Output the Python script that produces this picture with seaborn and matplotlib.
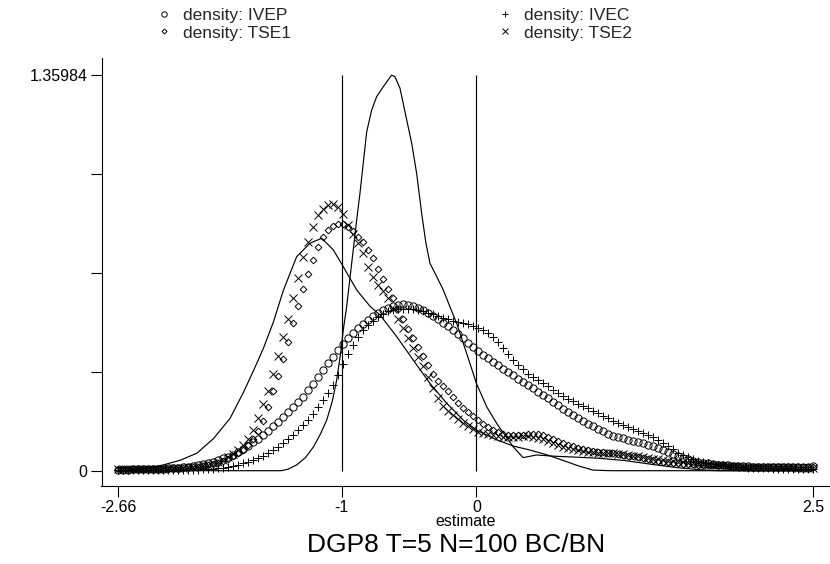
import numpy as np
import pandas as pd
import matplotlib
matplotlib.use("Agg")
import matplotlib.pyplot as plt
import seaborn as sns

# ---------------- data ----------------
x_start, x_end, n_points = -2.66, 2.5, 140
y_max = 1.35984
x_ticks = [-2.66, -1, 0, 2.5]
x_tick_labels = ["-2.66", "-1", "0", "2.5"]
y_ticks = [0, 0.33996, 0.67992, 1.01988, 1.35984]
y_tick_labels = ["0", "", "", "", "1.35984"]
xline_pos = [-1, 0]

ivep = [0.004, 0.004, 0.004, 0.005, 0.005, 0.005, 0.006, 0.006, 0.006, 0.007,
        0.008, 0.009, 0.010, 0.012, 0.014, 0.017, 0.020, 0.023, 0.027, 0.031,
        0.036, 0.042, 0.048, 0.055, 0.064, 0.075, 0.086, 0.098, 0.110, 0.122,
        0.136, 0.152, 0.169, 0.186, 0.203, 0.220, 0.237, 0.255, 0.276, 0.299,
        0.322, 0.345, 0.369, 0.392, 0.414, 0.435, 0.455, 0.472, 0.489, 0.506,
        0.519, 0.531, 0.541, 0.551, 0.559, 0.566, 0.571, 0.573, 0.571, 0.566,
        0.559, 0.551, 0.541, 0.531, 0.520, 0.508, 0.496, 0.483, 0.469, 0.455,
        0.440, 0.426, 0.412, 0.399, 0.386, 0.374, 0.362, 0.350, 0.339, 0.328,
        0.316, 0.305, 0.294, 0.283, 0.272, 0.261, 0.249, 0.237, 0.225, 0.213,
        0.202, 0.192, 0.182, 0.172, 0.162, 0.153, 0.144, 0.135, 0.127, 0.120,
        0.115, 0.111, 0.106, 0.102, 0.098, 0.094, 0.090, 0.085, 0.079, 0.072,
        0.065, 0.058, 0.051, 0.045, 0.040, 0.035, 0.031, 0.028, 0.025, 0.022,
        0.020, 0.019, 0.018, 0.017, 0.016, 0.015, 0.015, 0.014, 0.014, 0.014,
        0.013, 0.013, 0.013, 0.013, 0.013, 0.014, 0.014, 0.014, 0.014, 0.015]

ivec = [0.002, 0.002, 0.002, 0.002, 0.002, 0.002, 0.002, 0.002, 0.002, 0.002,
        0.002, 0.002, 0.003, 0.003, 0.003, 0.004, 0.004, 0.005, 0.006, 0.007,
        0.008, 0.010, 0.013, 0.016, 0.020, 0.025, 0.030, 0.036, 0.043, 0.052,
        0.061, 0.071, 0.082, 0.094, 0.108, 0.123, 0.139, 0.156, 0.175, 0.196,
        0.218, 0.242, 0.268, 0.296, 0.328, 0.368, 0.402, 0.433, 0.459, 0.482,
        0.500, 0.516, 0.530, 0.540, 0.548, 0.553, 0.556, 0.557, 0.556, 0.555,
        0.552, 0.548, 0.542, 0.537, 0.532, 0.526, 0.521, 0.516, 0.512, 0.508,
        0.503, 0.498, 0.492, 0.484, 0.472, 0.458, 0.441, 0.422, 0.401, 0.381,
        0.363, 0.348, 0.334, 0.322, 0.311, 0.300, 0.290, 0.279, 0.268, 0.257,
        0.248, 0.240, 0.231, 0.223, 0.214, 0.206, 0.197, 0.189, 0.180, 0.172,
        0.164, 0.156, 0.149, 0.143, 0.137, 0.131, 0.124, 0.116, 0.106, 0.095,
        0.085, 0.074, 0.062, 0.054, 0.047, 0.041, 0.035, 0.030, 0.026, 0.023,
        0.020, 0.018, 0.016, 0.014, 0.012, 0.011, 0.010, 0.009, 0.009, 0.008,
        0.008, 0.007, 0.007, 0.007, 0.006, 0.006, 0.006, 0.006, 0.006, 0.006]

tse1 = [0.005, 0.005, 0.005, 0.005, 0.006, 0.006, 0.006, 0.006, 0.007, 0.007,
        0.007, 0.008, 0.009, 0.010, 0.011, 0.012, 0.014, 0.016, 0.019, 0.023,
        0.028, 0.034, 0.041, 0.050, 0.060, 0.072, 0.087, 0.108, 0.135, 0.170,
        0.220, 0.273, 0.327, 0.384, 0.444, 0.507, 0.565, 0.625, 0.676, 0.725,
        0.770, 0.802, 0.826, 0.841, 0.848, 0.849, 0.839, 0.823, 0.804, 0.785,
        0.760, 0.731, 0.695, 0.658, 0.625, 0.592, 0.556, 0.520, 0.487, 0.457,
        0.425, 0.395, 0.363, 0.334, 0.310, 0.292, 0.274, 0.255, 0.234, 0.215,
        0.201, 0.187, 0.173, 0.161, 0.150, 0.140, 0.132, 0.126, 0.123, 0.122,
        0.123, 0.124, 0.125, 0.126, 0.125, 0.121, 0.116, 0.110, 0.103, 0.096,
        0.090, 0.084, 0.079, 0.075, 0.071, 0.068, 0.065, 0.063, 0.061, 0.060,
        0.058, 0.055, 0.052, 0.049, 0.046, 0.043, 0.040, 0.037, 0.034, 0.031,
        0.029, 0.027, 0.025, 0.024, 0.023, 0.022, 0.021, 0.021, 0.020, 0.020,
        0.019, 0.018, 0.017, 0.016, 0.015, 0.014, 0.013, 0.013, 0.013, 0.012,
        0.012, 0.012, 0.012, 0.012, 0.012, 0.012, 0.012, 0.012, 0.012, 0.012]

tse2 = [0.005, 0.005, 0.005, 0.005, 0.006, 0.006, 0.006, 0.006, 0.007, 0.007,
        0.008, 0.008, 0.009, 0.010, 0.011, 0.013, 0.015, 0.018, 0.021, 0.025,
        0.031, 0.038, 0.047, 0.058, 0.071, 0.087, 0.108, 0.140, 0.180, 0.228,
        0.275, 0.333, 0.396, 0.459, 0.522, 0.593, 0.663, 0.736, 0.787, 0.839,
        0.879, 0.901, 0.913, 0.916, 0.905, 0.882, 0.846, 0.815, 0.782, 0.750,
        0.700, 0.667, 0.640, 0.618, 0.592, 0.556, 0.520, 0.490, 0.455, 0.421,
        0.392, 0.360, 0.322, 0.286, 0.250, 0.224, 0.205, 0.191, 0.178, 0.165,
        0.152, 0.142, 0.134, 0.129, 0.125, 0.121, 0.119, 0.117, 0.117, 0.117,
        0.117, 0.118, 0.118, 0.117, 0.114, 0.108, 0.101, 0.094, 0.088, 0.082,
        0.078, 0.074, 0.070, 0.067, 0.065, 0.063, 0.062, 0.061, 0.060, 0.060,
        0.058, 0.056, 0.054, 0.051, 0.049, 0.046, 0.044, 0.041, 0.039, 0.037,
        0.035, 0.033, 0.031, 0.029, 0.027, 0.025, 0.023, 0.022, 0.021, 0.020,
        0.019, 0.018, 0.017, 0.016, 0.015, 0.014, 0.014, 0.013, 0.013, 0.012,
        0.012, 0.012, 0.011, 0.011, 0.011, 0.011, 0.010, 0.010, 0.010, 0.010]

# solid line A (wide, peak near -1.15)
line_a_x = [-2.66, -2.55, -2.45, -2.325, -2.2, -2.077, -1.954, -1.83, -1.73, -1.65,
            -1.583, -1.509, -1.434, -1.335, -1.236, -1.149, -1.063, -1.0, -0.889, -0.79,
            -0.716, -0.592, -0.469, -0.345, -0.221, -0.098, 0.0, 0.15, 0.273, 0.397,
            0.521, 0.645, 0.768, 0.867, 1.0, 1.5, 2.0, 2.5]
line_a_y = [0.0, 0.003, 0.008, 0.02, 0.036, 0.06, 0.11, 0.18, 0.27, 0.35,
            0.42, 0.51, 0.62, 0.736, 0.782, 0.799, 0.759, 0.71, 0.621, 0.565,
            0.535, 0.461, 0.38, 0.30, 0.232, 0.174, 0.14, 0.106, 0.085, 0.071,
            0.055, 0.035, 0.015, 0.002, 0.0, 0.0, 0.0, 0.0]

# solid line B (tall, peak = y_max)
line_b_x = [-2.66, -1.45, -1.40, -1.335, -1.27, -1.21, -1.16, -1.112, -1.07, -1.038,
            -1.01, -0.989, -0.964, -0.94, -0.915, -0.89, -0.865, -0.84, -0.815, -0.778,
            -0.741, -0.692, -0.63, -0.605, -0.568, -0.518, -0.481, -0.444, -0.407, -0.375,
            -0.345, -0.295, -0.246, -0.197, -0.147, -0.073, 0.0, 0.076, 0.15, 0.273,
            0.347, 0.447, 0.57, 0.72, 0.9, 1.1, 1.3, 1.5, 1.7, 1.8, 2.5]
line_b_y = [0.0, 0.0, 0.005, 0.02, 0.045, 0.082, 0.125, 0.174, 0.24, 0.312,
            0.40, 0.484, 0.564, 0.66, 0.759, 0.86, 0.954, 1.06, 1.165, 1.24,
            1.286, 1.32, 1.35984, 1.354, 1.315, 1.206, 1.126, 1.022, 0.885, 0.782,
            0.713, 0.667, 0.621, 0.564, 0.507, 0.404, 0.30, 0.22, 0.163, 0.082,
            0.045, 0.054, 0.05, 0.047, 0.043, 0.035, 0.022, 0.010, 0.002, 0.0, 0.0]

# ---------------- plot ----------------
grid = np.linspace(x_start, x_end, n_points)
df = pd.DataFrame({"x": grid, "IVEP": ivep, "IVEC": ivec, "TSE1": tse1, "TSE2": tse2})

sns.set_theme(style="white")
plt.rcParams["font.family"] = ["Liberation Sans", "DejaVu Sans"]

fig = plt.figure(figsize=(8.3, 5.64), dpi=100)
ax = fig.add_axes([101.5 / 830, 1 - 486 / 564, (829 - 101.5) / 830, (486 - 58) / 564])

sns.lineplot(x=line_a_x, y=line_a_y, color="black", linewidth=0.85, ax=ax, sort=False)
sns.lineplot(x=line_b_x, y=line_b_y, color="black", linewidth=0.85, ax=ax, sort=False)
ax.vlines(xline_pos, 0, y_max, colors="black", linewidth=0.85)

h_ivep, = ax.plot(df["x"], df["IVEP"], linestyle="none", marker="o", ms=5.2,
                  mfc="none", mec="black", mew=0.7, label="density: IVEP")
h_ivec, = ax.plot(df["x"], df["IVEC"], linestyle="none", marker="+", ms=6.0,
                  color="black", mew=0.7, label="density: IVEC")
h_tse1, = ax.plot(df["x"], df["TSE1"], linestyle="none", marker="D", ms=3.4,
                  mfc="none", mec="black", mew=0.7, label="density: TSE1")
h_tse2, = ax.plot(df["x"], df["TSE2"], linestyle="none", marker="x", ms=5.2,
                  color="black", mew=0.7, label="density: TSE2")

ax.set_xlim(-2.785, 2.619)
ax.set_ylim(-0.0526, 1.4187)
ax.set_xticks(x_ticks)
ax.set_xticklabels(x_tick_labels)
ax.set_yticks(y_ticks)
ax.set_yticklabels(y_tick_labels)
ax.tick_params(axis="both", which="major", length=8, width=0.8, color="black",
               labelsize=11.5, labelcolor="black", pad=2, direction="out",
               bottom=True, left=True)
for s in ["top", "right"]:
    ax.spines[s].set_visible(False)
for s in ["left", "bottom"]:
    ax.spines[s].set_color("black")
    ax.spines[s].set_linewidth(0.8)
ax.set_xlabel("estimate", fontsize=11.5, labelpad=-1, color="black")
ax.set_ylabel("")
if ax.get_legend() is not None:
    ax.get_legend().remove()

fig.legend(handles=[h_ivep, h_tse1, h_ivec, h_tse2], ncol=2, frameon=False,
           loc="upper left", bbox_to_anchor=(145 / 830, 1.005), fontsize=12.5,
           handlelength=1.0, handletextpad=0.6, columnspacing=11.8,
           labelspacing=0.15, borderaxespad=0.2, markerscale=0.75)

fig.text(456 / 830, 1 - 545 / 564, "DGP8 T=5 N=100 BC/BN", ha="center", va="center",
         fontsize=19, color="black")

fig.savefig("out.png", dpi=100)
